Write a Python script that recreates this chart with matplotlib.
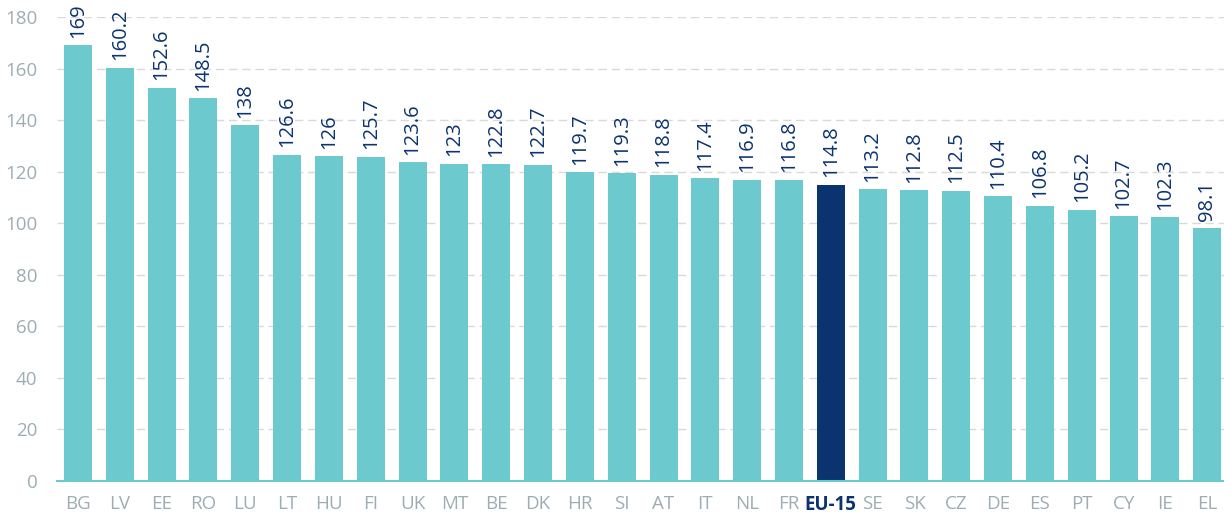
import matplotlib
matplotlib.use("Agg")
import matplotlib.pyplot as plt

categories = ["BG", "LV", "EE", "RO", "LU", "LT", "HU", "FI", "UK", "MT", "BE", "DK", "HR", "SI",
              "AT", "IT", "NL", "FR", "EU-15", "SE", "SK", "CZ", "DE", "ES", "PT", "CY", "IE", "EL"]
values = [169, 160.2, 152.6, 148.5, 138, 126.6, 126, 125.7, 123.6, 123, 122.8, 122.7, 119.7, 119.3,
          118.8, 117.4, 116.9, 116.8, 114.8, 113.2, 112.8, 112.5, 110.4, 106.8, 105.2, 102.7, 102.3, 98.1]
labels = ["169", "160.2", "152.6", "148.5", "138", "126.6", "126", "125.7", "123.6", "123", "122.8",
          "122.7", "119.7", "119.3", "118.8", "117.4", "116.9", "116.8", "114.8", "113.2", "112.8",
          "112.5", "110.4", "106.8", "105.2", "102.7", "102.3", "98.1"]
highlight = "EU-15"
yticks = [0, 20, 40, 60, 80, 100, 120, 140, 160, 180]

teal = "#6ccacf"
navy = "#0b3370"
grey = "#9eadb3"

plt.rcParams['font.family'] = ['Open Sans', 'DejaVu Sans']

fig = plt.figure(figsize=(12.24, 5.16), dpi=100)
ax = fig.add_axes([0.0466, 0.0678, 0.9534, 0.8992])

x = list(range(len(categories)))
colors = [navy if c == highlight else teal for c in categories]
ax.bar(x, values, width=0.67, color=colors, zorder=2)

for xi, v, lab in zip(x, values, labels):
    ax.annotate(lab, (xi, v), xytext=(0, 5.5), textcoords="offset points",
                rotation=90, ha="center", va="bottom", color=navy, fontsize=14.5,
                annotation_clip=False)

ax.set_xlim(-0.5, 27.4)
ax.set_ylim(0, 180)
ax.set_yticks(yticks)
ax.set_xticks(x)
ax.set_xticklabels(categories)
for t, c in zip(ax.get_xticklabels(), categories):
    if c == highlight:
        t.set_color(navy)
        t.set_fontweight("bold")
    else:
        t.set_color(grey)
for t in ax.get_yticklabels():
    t.set_color(grey)
ax.tick_params(axis="both", length=0, labelsize=13.5)
ax.tick_params(axis="x", pad=10)
ax.tick_params(axis="y", pad=14)

ax.grid(axis="y", color="#d9d9d9", linestyle=(0, (6, 3.5)), linewidth=1, zorder=0)
for s in ["top", "right", "left"]:
    ax.spines[s].set_visible(False)
ax.spines["bottom"].set_color(teal)
ax.spines["bottom"].set_linewidth(1.5)
ax.spines["bottom"].set_zorder(3)

fig.savefig("out.png", dpi=100)
